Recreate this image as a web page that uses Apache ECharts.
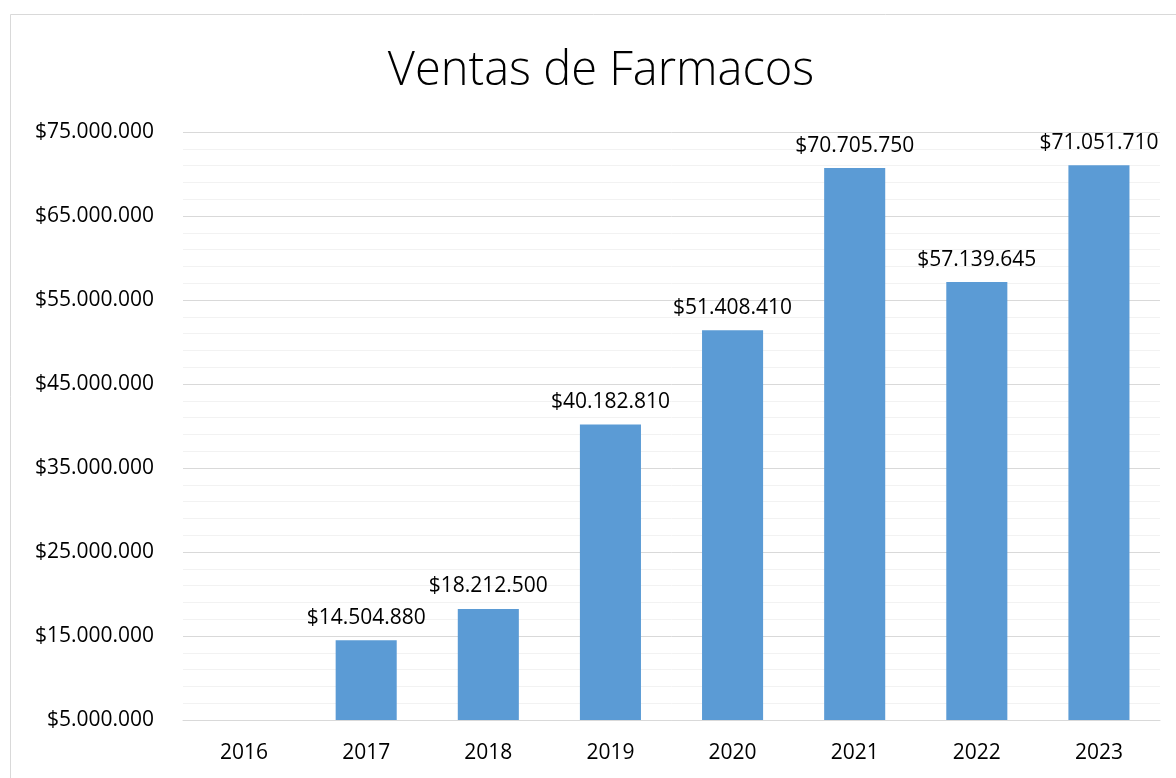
<!DOCTYPE html>
<html>
<head>
<meta charset="utf-8">
<script src="https://cdn.jsdelivr.net/npm/echarts@6/dist/echarts.min.js"></script>
<style>
html,body{margin:0;padding:0;background:#fff;}
#chart{width:1176px;height:778px;}
</style>
</head>
<body>
<div id="chart"></div>
<script>
const titleText = 'Ventas de Farmacos';
const years = ['2016','2017','2018','2019','2020','2021','2022','2023'];
const sales = [4750000, 14504880, 18212500, 40182810, 51408410, 70705750, 57139645, 71051710];
const showLabel = [false, true, true, true, true, true, true, true];
const yMin = 5000000;
const yMax = 75000000;
const yMajorStep = 10000000;
const yMinorStep = 2000000;
const yUnit = 1000000;

function fmt(v){
  const s = Math.round(v).toString();
  return '$' + s.replace(/\B(?=(\d{3})+(?!\d))/g, '.');
}

// split line colours for 1M steps: major every 10M, minor every 2M
const perMajor = yMajorStep / yUnit;
const perMinor = yMinorStep / yUnit;
const lineColors = [];
for (let i = 0; i < perMajor; i++) {
  if (i === 0) lineColors.push('#D9D9D9');
  else if (i % perMinor === 0) lineColors.push('#F2F2F2');
  else lineColors.push('rgba(0,0,0,0)');
}

const chart = echarts.init(document.getElementById('chart'), null, {renderer:'canvas'});
chart.setOption({
  animation: false,
  backgroundColor: '#ffffff',
  title: {
    text: titleText,
    top: 43,
    left: 596,
    textAlign: 'center',
    textStyle: {fontFamily: 'Open Sans', fontWeight: 300, fontSize: 47, color: '#000'}
  },
  graphic: [{
    type: 'rect',
    shape: {x: 10.5, y: 14.5, width: 1200, height: 800},
    style: {fill: 'none', stroke: '#D9D9D9', lineWidth: 1},
    silent: true
  }],
  grid: {left: 183, right: 16, top: 132, bottom: 58, containLabel: false},
  xAxis: {
    type: 'category',
    data: years,
    axisLine: {show: true, onZero: false, lineStyle: {color: '#D9D9D9', width: 1}},
    axisTick: {show: false},
    axisLabel: {margin: 23, color: '#000', fontFamily: 'Open Sans', fontSize: 21}
  },
  yAxis: {
    type: 'value',
    min: yMin,
    max: yMax,
    interval: yUnit,
    axisLine: {show: false},
    axisTick: {show: false},
    axisLabel: {
      margin: 29,
      color: '#000',
      fontFamily: 'Open Sans',
      fontSize: 21,
      formatter: function(v){
        return ((v - yMin) % yMajorStep === 0) ? fmt(v) : '';
      }
    },
    splitLine: {show: true, lineStyle: {color: lineColors, width: 1}}
  },
  series: [{
    type: 'bar',
    data: sales.map((v, i) => ({value: v, label: {show: showLabel[i]}})),
    barWidth: '50%',
    clip: true,
    itemStyle: {color: '#5B9BD5'},
    label: {
      show: true,
      position: 'top',
      distance: 12,
      color: '#000',
      fontFamily: 'Open Sans',
      fontSize: 21,
      formatter: p => fmt(p.value)
    }
  }]
});
</script>
</body>
</html>
